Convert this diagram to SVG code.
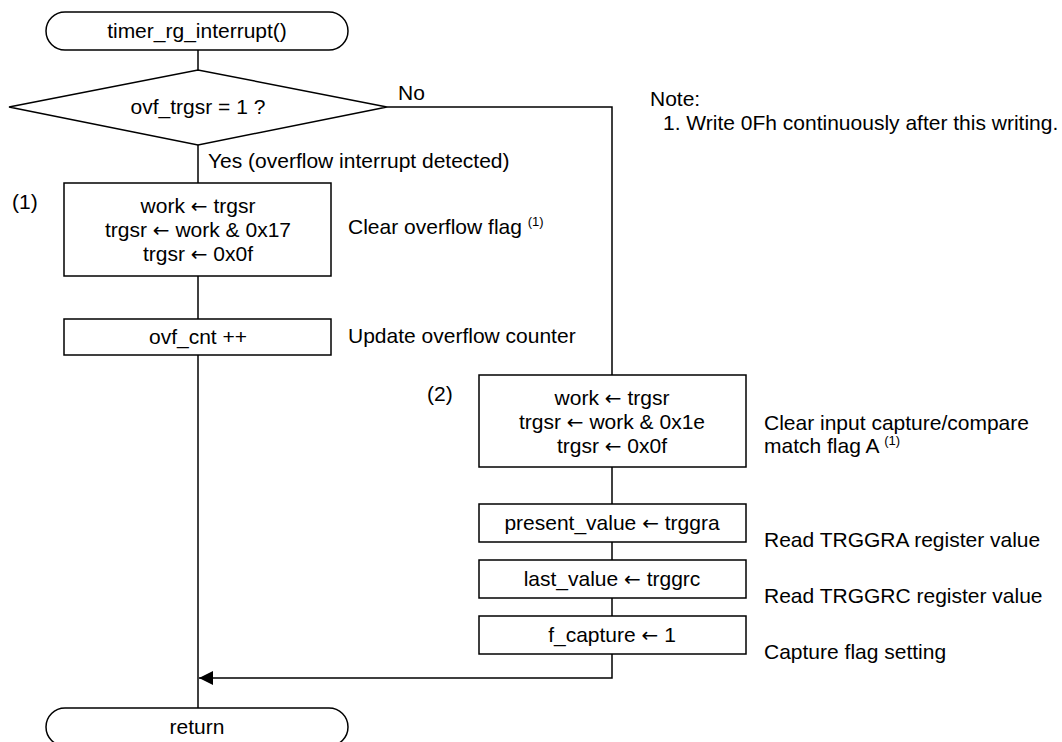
<svg xmlns="http://www.w3.org/2000/svg" width="1062" height="742" viewBox="0 0 1062 742">
<style>
text{font-family:"Liberation Sans",Arial,sans-serif;font-size:21px;fill:#000}
.c{text-anchor:middle}
.sup{font-size:13px}
.ar{font-family:"DejaVu Sans",sans-serif;font-size:20px}
.shape{fill:#fff;stroke:#000;stroke-width:1.5}
.ln{fill:none;stroke:#000;stroke-width:1.5}
</style>
<defs>
<marker id="ah" markerWidth="14" markerHeight="14" refX="14" refY="7" orient="auto" markerUnits="userSpaceOnUse">
<path d="M0,0 L14,7 L0,14 Z" fill="#000"/>
</marker>
</defs>
<g id="connectors">
<path class="ln" d="M198,50 V70"/>
<path class="ln" d="M198,145 V183"/>
<path class="ln" d="M198,276 V319"/>
<path class="ln" d="M198,355 V708"/>
<path class="ln" d="M387,107 H612 V375"/>
<path class="ln" d="M612,467 V504"/>
<path class="ln" d="M612,542 V560"/>
<path class="ln" d="M612,598 V616"/>
<path class="ln" d="M612,654 V678 H199" marker-end="url(#ah)"/>
<text x="398" y="100">No</text>
<text x="208" y="168">Yes (overflow interrupt detected)</text>
</g>
<g id="start">
<rect class="shape" x="46" y="12" width="302" height="38" rx="19" ry="19"/>
<text class="c" x="197" y="38">timer_rg_interrupt()</text>
</g>
<g id="decision">
<polygon class="shape" points="9,107 198,70 387,107 198,145"/>
<text class="c" x="198" y="114">ovf_trgsr = 1 ?</text>
</g>
<g id="note">
<text x="650" y="106">Note:</text>
<text x="663" y="130">1. Write 0Fh continuously after this writing.</text>
</g>
<g id="box1">
<text x="12" y="209">(1)</text>
<rect class="shape" x="64" y="183" width="267" height="93"/>
<text class="c" x="198" y="213">work <tspan class="ar">←</tspan> trgsr</text>
<text class="c" x="198" y="237">trgsr <tspan class="ar">←</tspan> work &amp; 0x17</text>
<text class="c" x="198" y="261">trgsr <tspan class="ar">←</tspan> 0x0f</text>
<text x="348" y="234">Clear overflow flag <tspan class="sup" dy="-8">(1)</tspan></text>
</g>
<g id="ovfcnt">
<rect class="shape" x="64" y="319" width="267" height="36"/>
<text class="c" x="198" y="344">ovf_cnt ++</text>
<text x="348" y="343">Update overflow counter</text>
</g>
<g id="box2">
<text x="427" y="401">(2)</text>
<rect class="shape" x="479" y="375" width="267" height="92"/>
<text class="c" x="612" y="405">work <tspan class="ar">←</tspan> trgsr</text>
<text class="c" x="612" y="429">trgsr <tspan class="ar">←</tspan> work &amp; 0x1e</text>
<text class="c" x="612" y="453">trgsr <tspan class="ar">←</tspan> 0x0f</text>
<text x="764" y="430">Clear input capture/compare</text>
<text x="764" y="453">match flag A <tspan class="sup" dy="-8">(1)</tspan></text>
</g>
<g id="present">
<rect class="shape" x="479" y="504" width="267" height="38"/>
<text class="c" x="612" y="530">present_value <tspan class="ar">←</tspan> trggra</text>
<text x="764" y="547">Read TRGGRA register value</text>
</g>
<g id="last">
<rect class="shape" x="479" y="560" width="267" height="38"/>
<text class="c" x="612" y="586">last_value <tspan class="ar">←</tspan> trggrc</text>
<text x="764" y="603">Read TRGGRC register value</text>
</g>
<g id="fcapture">
<rect class="shape" x="479" y="616" width="267" height="38"/>
<text class="c" x="612" y="642">f_capture <tspan class="ar">←</tspan> 1</text>
<text x="764" y="659">Capture flag setting</text>
</g>
<g id="return">
<rect class="shape" x="46" y="708" width="302" height="38" rx="19" ry="19"/>
<text class="c" x="197" y="734">return</text>
</g>
</svg>
